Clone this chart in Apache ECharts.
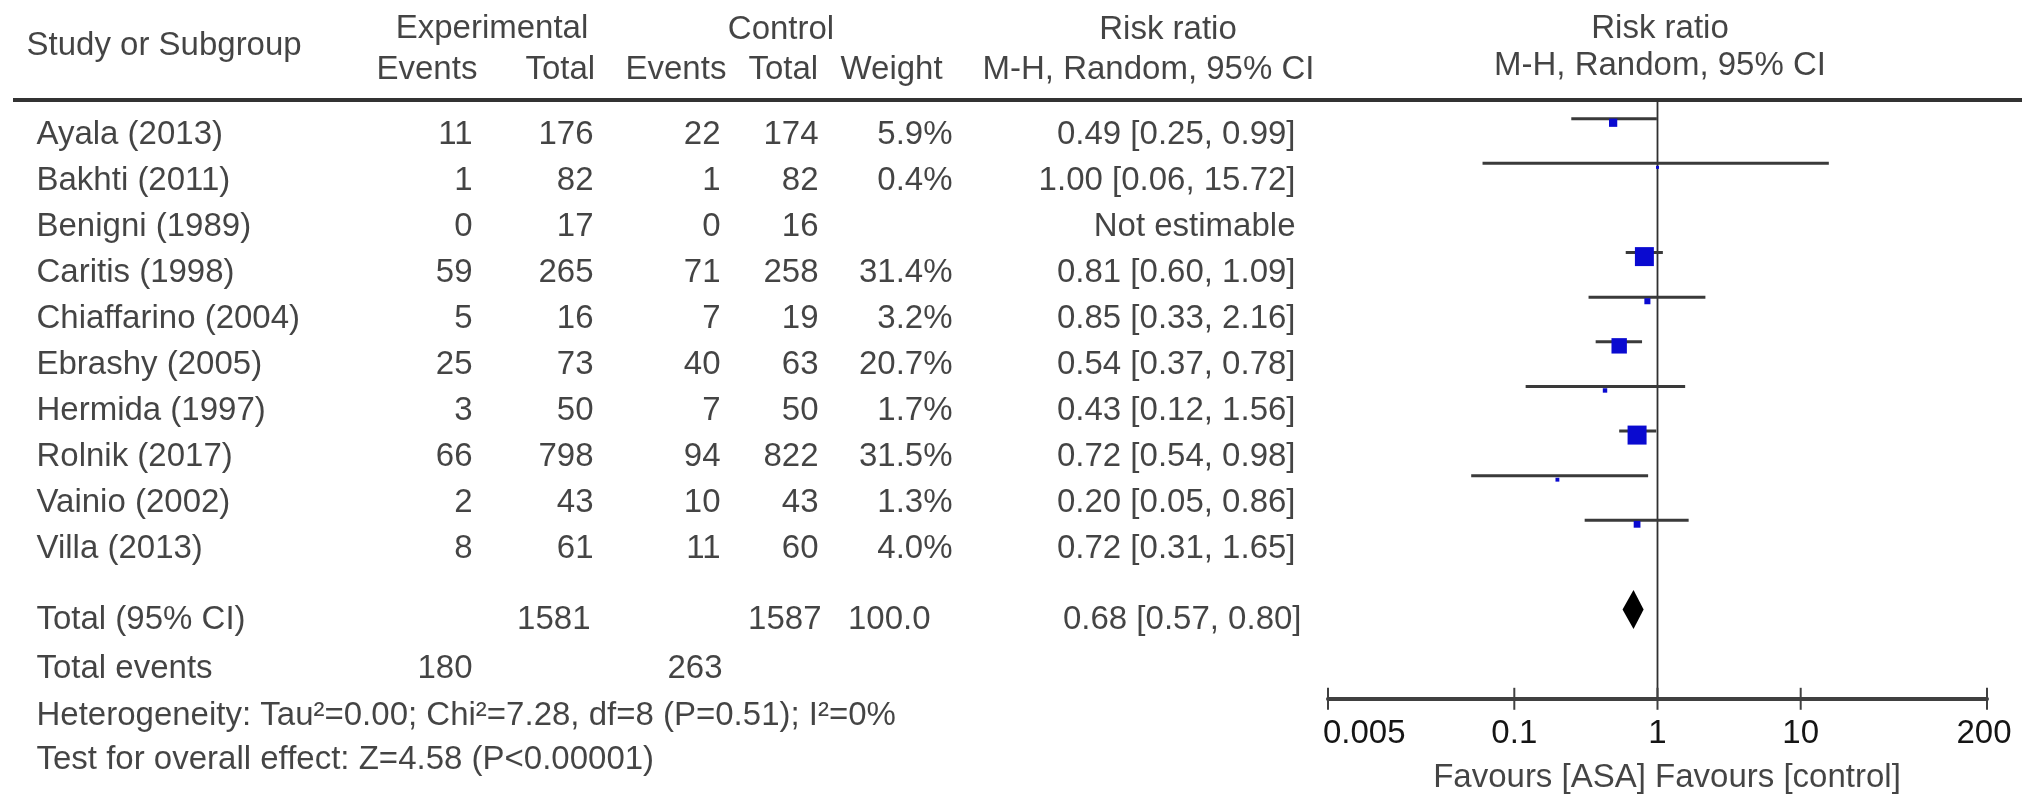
<!DOCTYPE html>
<html>
<head>
<meta charset="utf-8">
<script src="https://cdn.jsdelivr.net/npm/echarts@6/dist/echarts.min.js"></script>
<style>
html,body{margin:0;padding:0;background:#ffffff;}
#chart{width:2032px;height:806px;}
</style>
</head>
<body>
<div id="chart"></div>
<script>
// ---------------- DATA ----------------
const studies = ['Ayala (2013)','Bakhti (2011)','Benigni (1989)','Caritis (1998)','Chiaffarino (2004)','Ebrashy (2005)','Hermida (1997)','Rolnik (2017)','Vainio (2002)','Villa (2013)'];
const expEvents = [11, 1, 0, 59, 5, 25, 3, 66, 2, 8];
const expTotal  = [176, 82, 17, 265, 16, 73, 50, 798, 43, 61];
const ctlEvents = [22, 1, 0, 71, 7, 40, 7, 94, 10, 11];
const ctlTotal  = [174, 82, 16, 258, 19, 63, 50, 822, 43, 60];
const weights   = [5.9, 0.4, null, 31.4, 3.2, 20.7, 1.7, 31.5, 1.3, 4.0];
const riskRatio = [0.49, 1.00, null, 0.81, 0.85, 0.54, 0.43, 0.72, 0.20, 0.72];
const ciLow     = [0.25, 0.06, null, 0.60, 0.33, 0.37, 0.12, 0.54, 0.05, 0.31];
const ciHigh    = [0.99, 15.72, null, 1.09, 2.16, 0.78, 1.56, 0.98, 0.86, 1.65];
const pooled    = [0.68, 0.57, 0.80];           // RR, low, high
const totalN    = [1581, 1587];                  // experimental, control
const totalWeightText = '100.0';
const totalEvents = [180, 263];
const heterogeneityText = 'Heterogeneity: Tau\u00B2=0.00; Chi\u00B2=7.28, df=8 (P=0.51); I\u00B2=0%';
const overallText = 'Test for overall effect: Z=4.58 (P<0.00001)';
const tickValues = [0.005, 0.1, 1, 10, 200];
const tickLabels = ['0.005', '0.1', '1', '10', '200'];
const favoursText = 'Favours [ASA] Favours [control]';

// ---------------- LAYOUT / STYLE ----------------
const FONT = '"Liberation Sans", Arial, Helvetica, sans-serif';
const FS = 33;
const TXT = '#151515';
const col = {name: 36, expEv: 473, expTot: 594, ctlEv: 721, ctlTot: 819, weight: 953, ci: 1296};
const rowTotal = 10.54, rowEvents = 11.62, rowHet = 12.63, rowTest = 13.59, rowFavours = 13.98;
const hdr1 = -2.31, hdrStudy = -1.92, hdr2 = -1.40, hdrRight2 = -1.50;
const forestY = {min: -0.42, max: 13};
const pooledRow = 11;
const BOX_MAX = 19, BOX_OFF = 4;
const HEADER_LINE_Y = 100;
const tickLabelAlign = ['left', 'center', 'center', 'center', 'center'];
const tickLabelShift = [-5, 0, 0, 0, -3];

const fmt2 = v => v.toFixed(2);

// table text points: [x, row, text]
const rightPts = [], leftPts = [], centerPts = [];
studies.forEach((s, i) => {
  leftPts.push([col.name, i, s]);
  rightPts.push([col.expEv, i, String(expEvents[i])]);
  rightPts.push([col.expTot, i, String(expTotal[i])]);
  rightPts.push([col.ctlEv, i, String(ctlEvents[i])]);
  rightPts.push([col.ctlTot, i, String(ctlTotal[i])]);
  if (weights[i] != null) rightPts.push([col.weight, i, weights[i].toFixed(1) + '%']);
  rightPts.push([col.ci, i, riskRatio[i] == null ? 'Not estimable' :
    fmt2(riskRatio[i]) + ' [' + fmt2(ciLow[i]) + ', ' + fmt2(ciHigh[i]) + ']']);
});
leftPts.push([col.name, rowTotal, 'Total (95% CI)']);
rightPts.push([591, rowTotal, String(totalN[0])]);
rightPts.push([822, rowTotal, String(totalN[1])]);
rightPts.push([931, rowTotal, totalWeightText]);
rightPts.push([1302, rowTotal, fmt2(pooled[0]) + ' [' + fmt2(pooled[1]) + ', ' + fmt2(pooled[2]) + ']']);
leftPts.push([col.name, rowEvents, 'Total events']);
rightPts.push([col.expEv, rowEvents, String(totalEvents[0])]);
rightPts.push([723, rowEvents, String(totalEvents[1])]);
leftPts.push([col.name, rowHet, heterogeneityText]);
leftPts.push([col.name, rowTest, overallText]);
// headers
leftPts.push([26, hdrStudy, 'Study or Subgroup']);
centerPts.push([492, hdr1, 'Experimental']);
centerPts.push([781, hdr1 + 0.04, 'Control']);
centerPts.push([1168, hdr1 + 0.04, 'Risk ratio']);
leftPts.push([376, hdr2, 'Events']);
leftPts.push([525, hdr2, 'Total']);
leftPts.push([625, hdr2, 'Events']);
leftPts.push([748, hdr2, 'Total']);
leftPts.push([840, hdr2, 'Weight']);
leftPts.push([982, hdr2, 'M-H, Random, 95% CI']);
centerPts.push([1660, hdr1, 'Risk ratio']);
centerPts.push([1660, hdrRight2, 'M-H, Random, 95% CI']);
centerPts.push([1667, rowFavours, favoursText]);

function textSeries(points, align) {
  const pos = align === 'right' ? 'left' : (align === 'left' ? 'right' : 'inside');
  return {
    type: 'scatter', xAxisIndex: 0, yAxisIndex: 0, symbolSize: 1, silent: true,
    itemStyle: {color: 'rgba(0,0,0,0)'},
    label: {show: true, position: pos, distance: 0, formatter: p => p.data[2],
      color: TXT, fontFamily: FONT, fontSize: FS},
    emphasis: {disabled: true},
    labelLayout: {hideOverlap: false},
    data: points
  };
}

const maxW = Math.max(...weights.filter(w => w != null));
const forestData = [];
studies.forEach((s, i) => {
  if (riskRatio[i] != null) forestData.push([ciLow[i], ciHigh[i], riskRatio[i], i, weights[i]]);
});

const option = {
  animation: false,
  backgroundColor: '#ffffff',
  grid: [
    {left: 0, right: 0, top: 19.7, height: 759},
    {left: 1328, right: 45, top: HEADER_LINE_Y, bottom: 107.2}
  ],
  xAxis: [
    {type: 'value', gridIndex: 0, min: 0, max: 2032, show: false},
    {type: 'log', gridIndex: 1, logBase: 10, min: 0.005, max: 200, position: 'bottom',
      axisLine: {show: true, onZero: false, lineStyle: {color: '#404040', width: 4}},
      axisTick: {show: false}, axisLabel: {show: false}, splitLine: {show: false}}
  ],
  yAxis: [
    {type: 'value', gridIndex: 0, min: -2.5, max: 14, inverse: true, show: false},
    {type: 'value', gridIndex: 1, min: forestY.min, max: forestY.max, inverse: true, show: false}
  ],
  graphic: [
    {type: 'line', shape: {x1: 13, y1: HEADER_LINE_Y, x2: 2022, y2: HEADER_LINE_Y}, style: {stroke: '#333', lineWidth: 4}, silent: true}
  ],
  series: [
    textSeries(rightPts, 'right'),
    textSeries(leftPts, 'left'),
    textSeries(centerPts, 'center'),
    // reference line at RR = 1
    {
      type: 'custom', xAxisIndex: 1, yAxisIndex: 1, silent: true, clip: false,
      data: [[1]],
      renderItem: (params, api) => {
        const a = api.coord([api.value(0), forestY.min]);
        const b = api.coord([api.value(0), forestY.max]);
        return {type: 'line', shape: {x1: a[0], y1: a[1], x2: b[0], y2: b[1]},
          style: {stroke: '#303030', lineWidth: 1.8}};
      }
    },
    // ticks and tick labels
    {
      type: 'custom', xAxisIndex: 1, yAxisIndex: 1, silent: true, clip: false,
      data: tickValues.map((v, i) => [v, i]),
      renderItem: (params, api) => {
        const i = api.value(1);
        const p = api.coord([api.value(0), forestY.max]);
        return {type: 'group', children: [
          {type: 'line', shape: {x1: p[0], y1: p[1] - 11, x2: p[0], y2: p[1] + 11},
            style: {stroke: '#404040', lineWidth: 2}},
          {type: 'text', x: p[0] + tickLabelShift[i], y: p[1] + 35,
            style: {text: tickLabels[i], fill: TXT, font: FS + 'px ' + FONT,
              textAlign: tickLabelAlign[i], textVerticalAlign: 'middle',
              align: tickLabelAlign[i], verticalAlign: 'middle'}}
        ]};
      }
    },
    // study CIs and weighted boxes
    {
      type: 'custom', xAxisIndex: 1, yAxisIndex: 1, silent: true, clip: false,
      data: forestData,
      encode: {x: [0, 1, 2], y: 3},
      renderItem: (params, api) => {
        const lo = api.value(0), hi = api.value(1), rr = api.value(2), row = api.value(3), w = api.value(4);
        const a = api.coord([lo, row]), b = api.coord([hi, row]), c = api.coord([rr, row]);
        const s = Math.max(3, BOX_MAX * Math.sqrt(w / maxW));
        return {type: 'group', children: [
          {type: 'line', shape: {x1: a[0], y1: a[1], x2: b[0], y2: b[1]},
            style: {stroke: '#3a3a3a', lineWidth: 3}},
          {type: 'rect', shape: {x: c[0] - s / 2, y: c[1] + BOX_OFF - s / 2, width: s, height: s},
            style: {fill: '#0a0ad0'}}
        ]};
      }
    },
    // pooled diamond
    {
      type: 'custom', xAxisIndex: 1, yAxisIndex: 1, silent: true, clip: false,
      data: [[pooled[1], pooled[2], pooled[0], pooledRow]],
      encode: {x: [0, 1, 2], y: 3},
      renderItem: (params, api) => {
        const lo = api.value(0), hi = api.value(1), rr = api.value(2), row = api.value(3);
        const a = api.coord([lo, row]), b = api.coord([hi, row]), c = api.coord([rr, row]);
        const h = 19.5;
        return {type: 'polygon', shape: {points: [[a[0], a[1]], [c[0], c[1] - h], [b[0], b[1]], [c[0], c[1] + h]]},
          style: {fill: '#000000'}};
      }
    }
  ]
};

const chart = echarts.init(document.getElementById('chart'), null, {renderer: 'canvas'});
chart.setOption(option);
</script>
</body>
</html>
